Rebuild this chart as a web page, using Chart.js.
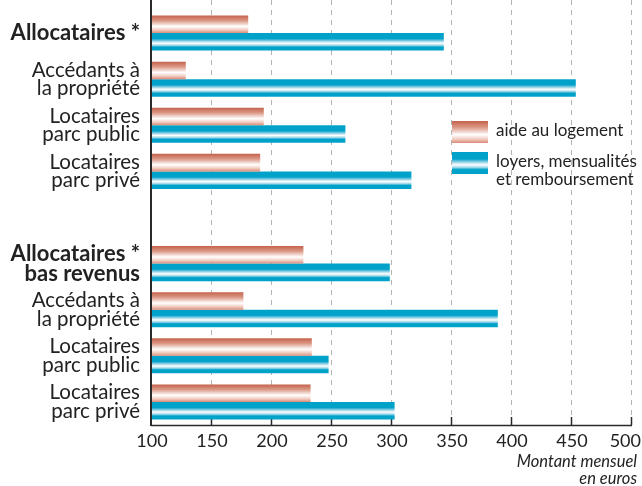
<!DOCTYPE html>
<html lang="fr">
<head>
<meta charset="utf-8">
<title>Aide au logement et dépenses de logement</title>
<script src="https://cdn.jsdelivr.net/npm/chart.js@4"></script>
<style>
  html, body { margin: 0; padding: 0; background: #fff; }
  #wrap { width: 642px; height: 486px; position: relative; }
</style>
</head>
<body>
<div id="wrap"><canvas id="chart"></canvas></div>
<script>
// --- données (euros par mois) ---
const categories = [
  'Allocataires *',
  ['Accédants à', 'la propriété'],
  ['Locataires', 'parc public'],
  ['Locataires', 'parc privé'],
  '',
  ['Allocataires *', 'bas revenus'],
  ['Accédants à', 'la propriété'],
  ['Locataires', 'parc public'],
  ['Locataires', 'parc privé']
];
const aideLogement = [181, 129, 194, 191, null, 227, 177, 234, 233];
const loyers       = [344, 454, 262, 317, null, 299, 389, 248, 303];
const boldRows = [0, 5];

const xTicks = [100, 150, 200, 250, 300, 350, 400, 450, 500];
const axisTitle = ['Montant mensuel', 'en euros'];
const FONT = 'Lato, "DejaVu Sans", sans-serif';

// dégradés des barres (du haut vers le bas)
const SALMON_STOPS = [[0, '#c4624c'], [0.3, '#dc9a88'], [0.62, '#ffffff'], [0.82, '#f2cdc2'], [1, '#d98b78']];
const BLUE_STOPS = [[0, '#00a2c9'], [0.32, '#00a2c9'], [0.45, '#8ccfe4'], [0.58, '#ffffff'], [0.7, '#a0d8ea'], [0.8, '#00a2c9'], [1, '#00a2c9']];

function makeGradient(ctx, top, bottom, stops) {
  const g = ctx.createLinearGradient(0, top, 0, bottom);
  stops.forEach(s => g.addColorStop(s[0], s[1]));
  return g;
}

// applique un dégradé propre à chaque barre
const barGradients = {
  id: 'barGradients',
  beforeDatasetsDraw(chart) {
    const ctx = chart.ctx;
    chart.data.datasets.forEach((ds, i) => {
      const stops = i === 0 ? SALMON_STOPS : BLUE_STOPS;
      chart.getDatasetMeta(i).data.forEach(el => {
        if (!el || !isFinite(el.y)) return;
        const h = el.height;
        el.options.backgroundColor = makeGradient(ctx, el.y - h / 2, el.y + h / 2, stops);
      });
    });
  }
};

// grille pointillée, axes, graduations et titre de l'axe
const axesLines = {
  id: 'axesLines',
  beforeDatasetsDraw(chart) {
    const ctx = chart.ctx;
    const xs = chart.scales.x;
    const area = chart.chartArea;
    ctx.save();
    ctx.strokeStyle = '#b4b4b4';
    ctx.lineWidth = 1;
    ctx.setLineDash([5, 5]);
    xTicks.slice(1).forEach(v => {
      const x = Math.round(xs.getPixelForValue(v)) + 0.5;
      ctx.beginPath();
      ctx.moveTo(x, 0);
      ctx.lineTo(x, area.bottom - 8);
      ctx.stroke();
    });
    ctx.setLineDash([]);
    ctx.strokeStyle = '#2a2a2a';
    ctx.lineWidth = 1.5;
    xTicks.slice(1).forEach(v => {
      const x = Math.round(xs.getPixelForValue(v)) + 0.5;
      ctx.beginPath();
      ctx.moveTo(x, area.bottom - 8);
      ctx.lineTo(x, area.bottom);
      ctx.stroke();
    });
    ctx.beginPath();
    ctx.moveTo(area.left, area.bottom + 0.5);
    ctx.lineTo(area.right + 1, area.bottom + 0.5);
    ctx.stroke();
    ctx.restore();
  },
  afterDatasetsDraw(chart) {
    const ctx = chart.ctx;
    const xs = chart.scales.x;
    const area = chart.chartArea;
    ctx.save();
    ctx.strokeStyle = '#2a2a2a';
    ctx.lineWidth = 2;
    ctx.beginPath();
    ctx.moveTo(area.left, 0);
    ctx.lineTo(area.left, area.bottom + 1);
    ctx.stroke();

    // étiquettes de l'axe x (la dernière reste dans le cadre)
    ctx.font = '18px ' + FONT;
    ctx.fillStyle = '#222';
    ctx.textBaseline = 'middle';
    ctx.textAlign = 'center';
    xTicks.forEach(v => {
      const t = String(v);
      const w = ctx.measureText(t).width;
      let x = xs.getPixelForValue(v) + 1;
      x = Math.min(x, chart.width - 1 - w / 2);
      ctx.fillText(t, x, area.bottom + 16);
    });

    ctx.font = 'italic 16.5px ' + FONT;
    ctx.textAlign = 'right';
    axisTitle.forEach((t, k) => ctx.fillText(t, 637, 462 + k * 17));
    ctx.restore();
  }
};

// légende dans la zone du graphique
const boxLegend = {
  id: 'boxLegend',
  afterDraw(chart) {
    const ctx = chart.ctx;
    const items = [
      { y: 121, stops: SALMON_STOPS, lines: [chart.data.datasets[0].label] },
      { y: 152, stops: BLUE_STOPS, lines: ['loyers, mensualités', 'et remboursement'] }
    ];
    ctx.save();
    ctx.font = '17px ' + FONT;
    ctx.textBaseline = 'middle';
    items.forEach(it => {
      ctx.fillStyle = makeGradient(ctx, it.y, it.y + 22, it.stops);
      ctx.fillRect(452, it.y, 36, 22);
      ctx.fillStyle = '#222';
      it.lines.forEach((t, k) => ctx.fillText(t, 496, it.y + 10 + k * 18));
    });
    ctx.restore();
  }
};

new Chart(document.getElementById('chart'), {
  type: 'bar',
  data: {
    labels: categories,
    datasets: [
      // couleur scriptable : chaque barre garde ses propres options
      { label: 'aide au logement', data: aideLogement, backgroundColor: () => '#d98b78' },
      { label: 'loyers, mensualités et remboursement', data: loyers, backgroundColor: () => '#00a2c9' }
    ]
  },
  options: {
    indexAxis: 'y',
    responsive: true,
    maintainAspectRatio: false,
    animation: false,
    layout: { padding: { top: 10, right: 11, left: 0, bottom: 0 } },
    datasets: { bar: { barPercentage: 1, categoryPercentage: 0.76, borderWidth: 0 } },
    plugins: { legend: { display: false }, tooltip: { enabled: false } },
    scales: {
      x: {
        type: 'linear',
        min: 100,
        max: 500,
        grid: { display: false, drawTicks: false },
        border: { display: false },
        afterBuildTicks: scale => { scale.ticks = xTicks.map(v => ({ value: v })); },
        ticks: { display: false },
        afterFit: scale => {
          scale.height = 61;
          scale.paddingLeft = 0;
          scale.paddingRight = 0;
        }
      },
      y: {
        grid: { display: false, drawTicks: false },
        border: { display: false },
        ticks: {
          color: '#222',
          padding: 11,
          font: ctx => ({
            family: FONT,
            size: boldRows.includes(ctx.index) ? 22 : 20.5,
            weight: boldRows.includes(ctx.index) ? 'bold' : 'normal',
            lineHeight: 0.9
          })
        },
        afterFit: scale => {
          scale.width = 151;
          scale.paddingTop = 0;
          scale.paddingBottom = 0;
        }
      }
    }
  },
  plugins: [barGradients, axesLines, boxLegend]
});
</script>
</body>
</html>
